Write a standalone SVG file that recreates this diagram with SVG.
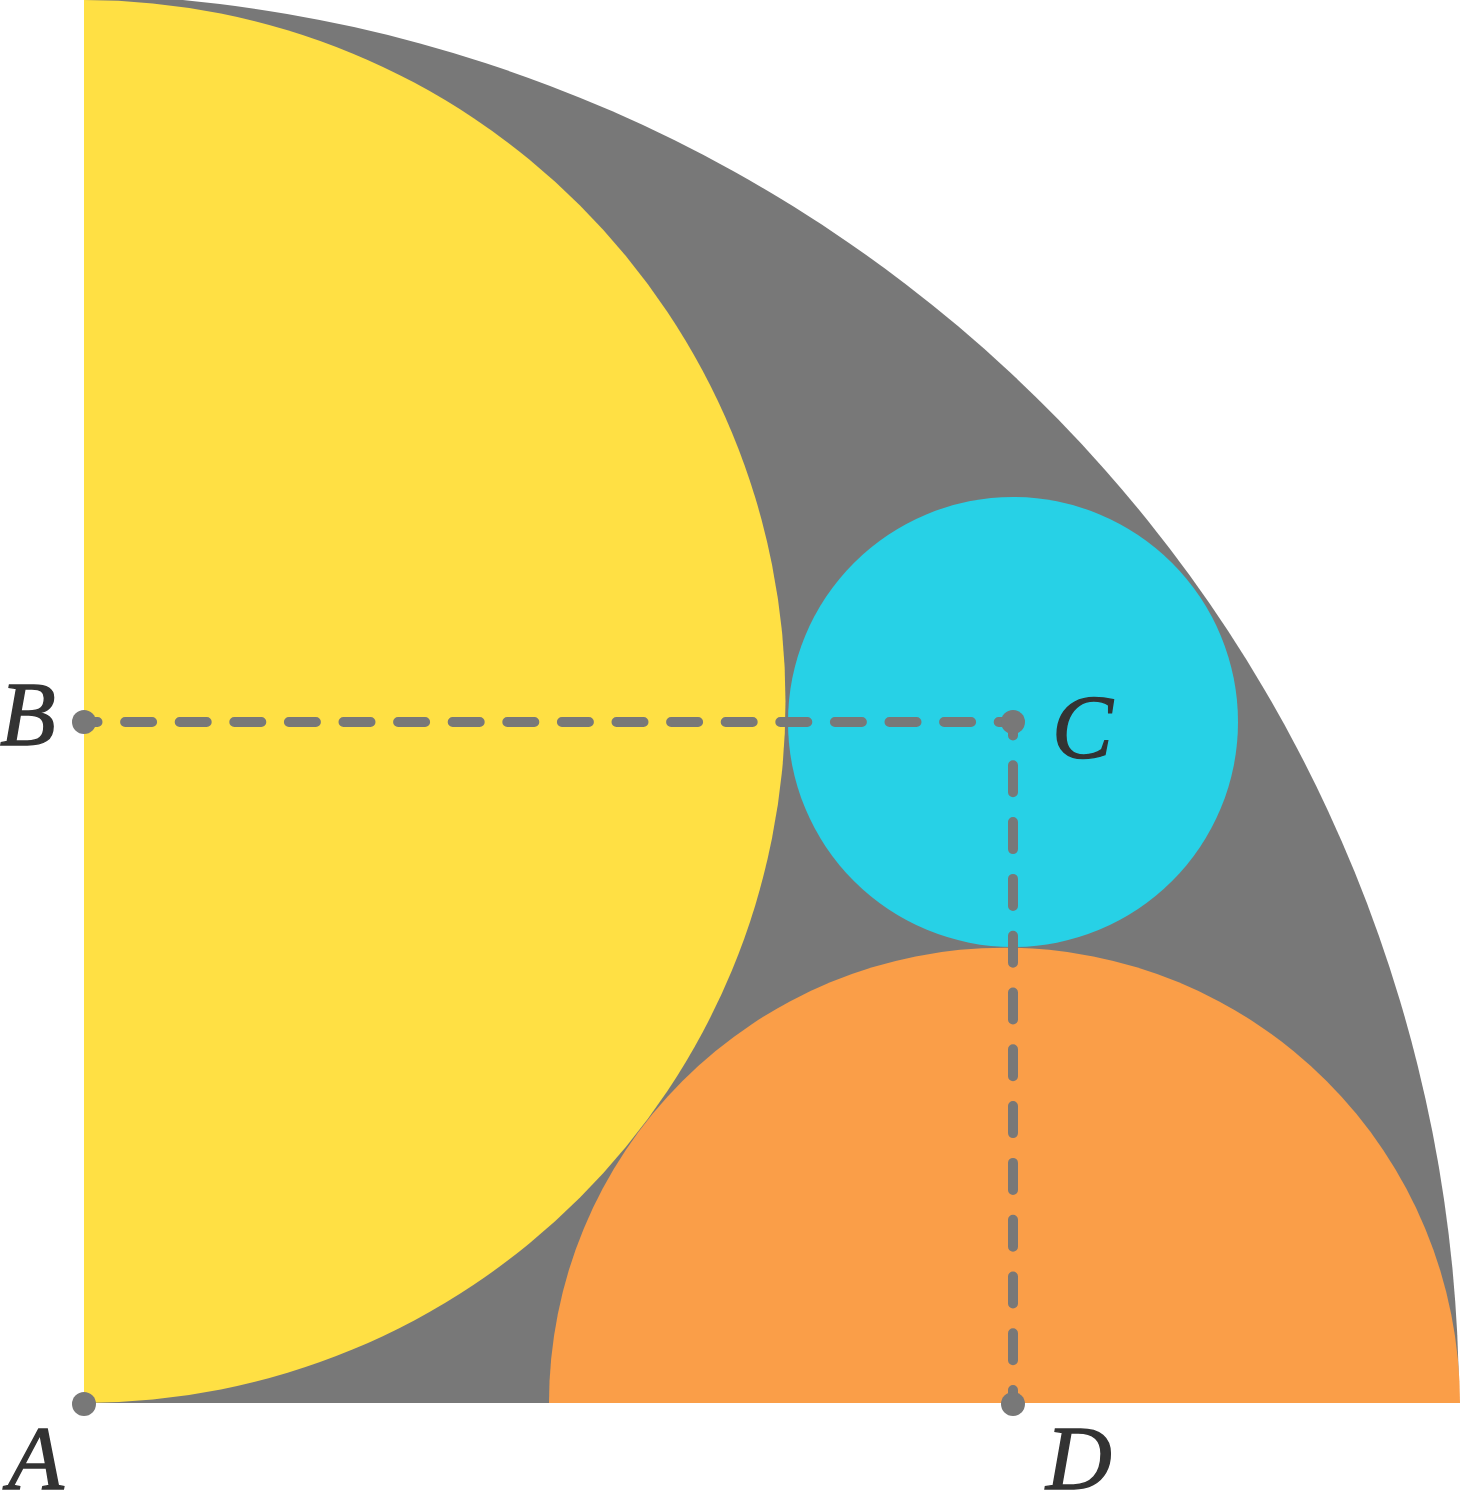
<svg xmlns="http://www.w3.org/2000/svg" width="1460" height="1495" viewBox="0 0 1460 1495">
  <style>
    .dash { fill: none; stroke: #787878; stroke-width: 10; stroke-linecap: round; }
    .pt { fill: #787878; }
    .lbl { font-family: "Liberation Serif", "DejaVu Serif", serif; font-style: italic; font-size: 91px; fill: #333333; stroke: #333333; stroke-width: 1.4; }
  </style>
  <rect x="0" y="0" width="1460" height="1495" fill="#ffffff"/>
  <g id="quarter-circle">
    <path d="M84 1403 L84 -6 A1411 1411 0 0 1 1459 1403 Z" fill="#787878"/>
  </g>
  <g id="yellow-semicircle">
    <path d="M84 0 A701.5 701.5 0 0 1 84 1403 Z" fill="#FFE044"/>
  </g>
  <g id="orange-semicircle">
    <path d="M549 1403 A455.5 455.5 0 0 1 1460 1403 Z" fill="#FA9E48"/>
  </g>
  <g id="cyan-circle">
    <circle cx="1013" cy="722" r="225" fill="#27D1E6"/>
  </g>
  <g id="connectors">
    <line class="dash" x1="84" y1="722" x2="1013" y2="722" stroke-dasharray="27 27.6" stroke-dashoffset="13.5"/>
    <line class="dash" x1="1013" y1="722" x2="1013" y2="1404" stroke-dasharray="27 29.8" stroke-dashoffset="13.5"/>
  </g>
  <g id="point-A">
    <circle class="pt" cx="84" cy="1404" r="12"/>
    <text class="lbl" x="8" y="1489">A</text>
  </g>
  <g id="point-B">
    <circle class="pt" cx="84" cy="722" r="12"/>
    <text class="lbl" x="0" y="745">B</text>
  </g>
  <g id="point-C">
    <circle class="pt" cx="1013" cy="722" r="12"/>
    <text class="lbl" x="1052" y="758">C</text>
  </g>
  <g id="point-D">
    <circle class="pt" cx="1013" cy="1404" r="12"/>
    <text class="lbl" x="1046" y="1489">D</text>
  </g>
</svg>
